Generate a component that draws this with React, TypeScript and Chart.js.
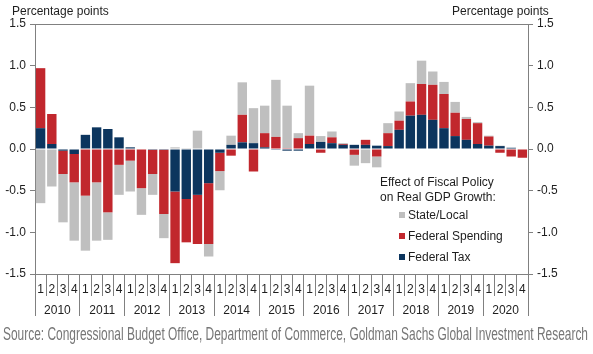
import React, { useEffect, useRef } from 'react';
import { Chart, registerables } from 'chart.js';

Chart.register(...registerables);

const categories = [
  '2010Q1', '2010Q2', '2010Q3', '2010Q4',
  '2011Q1', '2011Q2', '2011Q3', '2011Q4',
  '2012Q1', '2012Q2', '2012Q3', '2012Q4',
  '2013Q1', '2013Q2', '2013Q3', '2013Q4',
  '2014Q1', '2014Q2', '2014Q3', '2014Q4',
  '2015Q1', '2015Q2', '2015Q3', '2015Q4',
  '2016Q1', '2016Q2', '2016Q3', '2016Q4',
  '2017Q1', '2017Q2', '2017Q3', '2017Q4',
  '2018Q1', '2018Q2', '2018Q3', '2018Q4',
  '2019Q1', '2019Q2', '2019Q3', '2019Q4',
  '2020Q1', '2020Q2', '2020Q3', '2020Q4',
];

const quarterLabels = [
  '1', '2', '3', '4', '1', '2', '3', '4', '1', '2', '3', '4',
  '1', '2', '3', '4', '1', '2', '3', '4', '1', '2', '3', '4',
  '1', '2', '3', '4', '1', '2', '3', '4', '1', '2', '3', '4',
  '1', '2', '3', '4', '1', '2', '3', '4',
];

const years = ['2010', '2011', '2012', '2013', '2014', '2015', '2016', '2017', '2018', '2019', '2020'];

const federalTax = [
  0.25, 0.06, -0.02, -0.06,
  0.17, 0.26, 0.24, 0.14,
  0.02, 0.0, -0.01, -0.01,
  -0.51, -0.6, -0.55, -0.41,
  -0.045, 0.05, 0.08, 0.07,
  0.02, -0.01, -0.02, -0.02,
  0.06, 0.085, 0.07, 0.05,
  0.05, 0.05, 0.04, 0.035,
  0.23, 0.4, 0.41, 0.35,
  0.25, 0.155, 0.11, 0.06,
  0.04, 0.035, 0.015, 0.0,
];

const federalSpending = [
  0.72, 0.36, -0.28, -0.34,
  -0.56, -0.4, -0.76, -0.19,
  -0.14, -0.47, -0.29, -0.77,
  -0.86, -0.52, -0.59, -0.73,
  -0.22, -0.08, 0.33, -0.27,
  0.17, 0.145, 0.01, 0.13,
  0.1, -0.045, 0.07, 0.01,
  -0.07, 0.06, -0.09, 0.155,
  0.11, 0.17, 0.37, 0.42,
  0.41, 0.28, 0.25, 0.25,
  0.11, -0.045, -0.09, -0.105,
];

const stateLocal = [
  -0.65, -0.45, -0.58, -0.7,
  -0.66, -0.7, -0.33, -0.36,
  -0.37, -0.32, -0.25, -0.29,
  0.02, 0.01, 0.22, -0.15,
  -0.23, 0.11, 0.39, 0.42,
  0.33, 0.685, 0.51, 0.06,
  0.6, 0.07, 0.07, 0.01,
  -0.13, -0.17, -0.13, 0.12,
  0.11, 0.22, 0.28, 0.16,
  0.145, 0.13, 0.025, 0.012,
  0.01, 0.005, 0.0, 0.0,
];

const seriesNames = ['Federal Tax', 'Federal Spending', 'State/Local'];
const seriesColors = ['#0C355E', '#C1272D', '#BFBFBF'];

const AXIS = '#808080';
const TEXT = '#1e1e1e';
const FONT = "'Liberation Sans', Arial, sans-serif";

export default function App() {
  const canvasRef = useRef<HTMLCanvasElement | null>(null);
  const sourceRef = useRef<HTMLSpanElement | null>(null);

  useEffect(() => {
    document.body.style.margin = '0';
    const canvas = canvasRef.current;
    if (!canvas) return;
    const tickFont = { family: FONT, size: 12 };
    const chart = new Chart(canvas, {
      type: 'bar',
      data: {
        labels: categories,
        datasets: [
          { label: seriesNames[0], data: federalTax, backgroundColor: seriesColors[0] },
          { label: seriesNames[1], data: federalSpending, backgroundColor: seriesColors[1] },
          { label: seriesNames[2], data: stateLocal, backgroundColor: seriesColors[2] },
        ],
      },
      options: {
        animation: false,
        responsive: false,
        maintainAspectRatio: false,
        layout: { padding: { top: 24, bottom: 38, left: 0, right: 0 } },
        datasets: { bar: { categoryPercentage: 1, barPercentage: 0.84 } },
        plugins: { legend: { display: false }, tooltip: { enabled: false } },
        scales: {
          x: {
            stacked: true,
            position: 'bottom',
            weight: 0,
            offset: true,
            grid: { offset: true, drawOnChartArea: false, tickLength: 22, color: AXIS, lineWidth: 1 },
            border: { display: true, color: AXIS },
            ticks: {
              autoSkip: false,
              maxRotation: 0,
              padding: -14,
              color: TEXT,
              font: tickFont,
              callback: (_v: any, i: number) => quarterLabels[i],
            },
            afterFit: (s: any) => { s.height = 22; },
          },
          xYear: {
            type: 'category',
            labels: years,
            position: 'bottom',
            weight: 1,
            offset: true,
            grid: { offset: true, drawOnChartArea: false, tickLength: 20, color: AXIS, lineWidth: 1 },
            border: { display: false },
            ticks: { autoSkip: false, maxRotation: 0, padding: -13, color: TEXT, font: tickFont },
            afterFit: (s: any) => { s.height = 20; },
          },
          y: {
            stacked: true,
            position: 'left',
            min: -1.5,
            max: 1.5,
            grid: {
              color: (ctx: any) => (ctx.tick && Math.abs(ctx.tick.value - 1.5) < 1e-9 ? AXIS : 'rgba(0,0,0,0)'),
              tickColor: AXIS,
              tickLength: 5,
              drawOnChartArea: true,
            },
            border: { display: true, color: AXIS },
            ticks: {
              stepSize: 0.5,
              padding: 4,
              color: TEXT,
              font: tickFont,
              callback: (v: any) => Number(v).toFixed(1),
            },
            afterFit: (s: any) => { s.width = 35; },
          },
          y2: {
            position: 'right',
            min: -1.5,
            max: 1.5,
            grid: { drawOnChartArea: false, tickLength: 5, color: AXIS },
            border: { display: true, color: AXIS },
            ticks: {
              stepSize: 0.5,
              padding: 4,
              color: TEXT,
              font: tickFont,
              callback: (v: any) => Number(v).toFixed(1),
            },
            afterFit: (s: any) => { s.width = 65; },
          },
        },
      } as any,
    });

    const src = sourceRef.current;
    if (src) {
      src.style.transform = 'none';
      const w = src.getBoundingClientRect().width;
      if (w > 0) src.style.transform = `scaleX(${585 / w})`;
    }

    return () => chart.destroy();
  }, []);

  const legendOrder = [2, 1, 0];

  return (
    <div style={{ position: 'relative', width: 593, height: 354, background: '#fff', fontFamily: FONT, overflow: 'hidden' }}>
      <canvas ref={canvasRef} width={593} height={354} style={{ position: 'absolute', left: 0, top: 0, width: 593, height: 354 }} />
      <div style={{ position: 'absolute', left: 12, top: 4, fontSize: 12, lineHeight: '14px', color: TEXT, whiteSpace: 'nowrap' }}>
        Percentage points
      </div>
      <div style={{ position: 'absolute', left: 452, top: 4, fontSize: 12, lineHeight: '14px', color: TEXT, whiteSpace: 'nowrap' }}>
        Percentage points
      </div>
      <div style={{ position: 'absolute', left: 380, top: 175, fontSize: 12, lineHeight: '14.5px', color: TEXT, whiteSpace: 'nowrap' }}>
        <div>Effect of Fiscal Policy</div>
        <div>on Real GDP Growth:</div>
      </div>
      {legendOrder.map((idx, row) => (
        <div
          key={seriesNames[idx]}
          style={{ position: 'absolute', left: 399, top: 208 + row * 21, height: 14, display: 'flex', alignItems: 'center', fontSize: 12, color: TEXT, whiteSpace: 'nowrap' }}
        >
          <span style={{ display: 'inline-block', width: 6, height: 6, background: seriesColors[idx], marginRight: 3 }} />
          <span>{seriesNames[idx]}</span>
        </div>
      ))}
      <div style={{ position: 'absolute', left: 3, top: 324, fontSize: 17.5, lineHeight: '20px', color: '#767676', whiteSpace: 'nowrap' }}>
        <span ref={sourceRef} style={{ display: 'inline-block', transformOrigin: 'left center', fontFamily: "'Liberation Sans Narrow', 'Liberation Sans', Arial, sans-serif" }}>
          Source: Congressional Budget Office, Department of Commerce, Goldman Sachs Global Investment Research
        </span>
      </div>
    </div>
  );
}
